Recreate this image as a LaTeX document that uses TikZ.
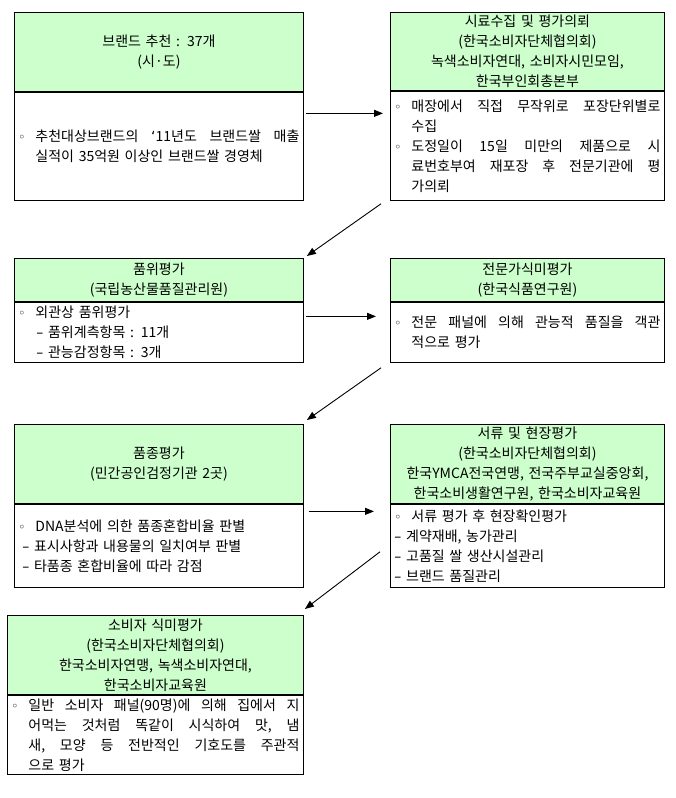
\documentclass[tikz,border=0pt]{standalone}
\usepackage{fontspec}
\usepackage{tikz}
\usepackage{xcolor}
\usetikzlibrary{arrows.meta}
\setmainfont{Noto Sans CJK KR}[WordSpace={2.2,1,1}]
\newfontfamily\symfont{DejaVu Sans}
\definecolor{headgreen}{RGB}{204,255,204}
\newlength\gap
\setlength\gap{0pt plus 1fil}
\newcommand\bul{\makebox[17pt][l]{\symfont\fontsize{12}{20}\selectfont ◦}}
\newcommand\dsh{{\symfont –}\ }
\newcommand\jl[2][0pt]{\hspace*{#1}\makebox[\dimexpr\hsize-#1\relax][s]{#2}}

\begin{document}
\begin{tikzpicture}[x=1pt, y=-1pt,
    every node/.style={font=\fontsize{14}{20}\selectfont},
    head/.style={draw, line width=0.9pt, fill=headgreen, anchor=north west, inner xsep=1pt, inner ysep=0pt, align=center},
    body/.style={draw, line width=0.9pt, anchor=north west, inner xsep=4pt, inner ysep=0pt, align=left},
    arr/.style={line width=0.9pt, -{Triangle[length=9pt,width=7pt]}}]
            \fill[white] (0,0) rectangle (675,798);
            % left column
            \node[head, text width=287pt, minimum height=79pt] (h1) at (14,12) {브랜드 추천 : 37개\\(시·도)};
            \node[body, text width=281pt, minimum height=108pt] (b1) at (h1.south west) {\jl{\bul 추천대상브랜드의\hskip\gap{\symfont ‘}11년도\hskip\gap 브랜드쌀\hskip\gap 매출}\\\hspace*{17pt}실적이 35억원 이상인 브랜드쌀 경영체};
            \node[head, text width=287pt, minimum height=43pt] (h3) at (14,258) {품위평가\\(국립농산물품질관리원)};
            \node[body, text width=281pt, minimum height=60pt] (b3) at (h3.south west) {\bul 외관상 품위평가\\\hspace*{18pt}\dsh 품위계측항목 : 11개\\\hspace*{18pt}\dsh 관능감정항목 : 3개};
            \node[head, text width=287pt, minimum height=79pt] (h5) at (14,424) {품종평가\\(민간공인검정기관 2곳)};
            \node[body, text width=281pt, minimum height=83pt] (b5) at (h5.south west) {\bul DNA분석에 의한 품종혼합비율 판별\\\hspace*{4pt}\dsh 표시사항과 내용물의 일치여부 판별\\\hspace*{4pt}\dsh 타품종 혼합비율에 따라 감점};
            \node[head, text width=294pt, minimum height=79pt] (h7) at (7,615) {소비자 식미평가\\(한국소비자단체협의회)\\한국소비자연맹, 녹색소비자연대,\\한국소비자교육원};
            \node[body, text width=288pt, minimum height=79pt] (b7) at (h7.south west) {\jl{\bul 일반\hskip\gap 소비자\hskip\gap 패널(90명)에\hskip\gap 의해\hskip\gap 집에서\hskip\gap 지}\\\jl[17pt]{어먹는\hskip\gap 것처럼\hskip\gap 똑같이\hskip\gap 시식하여\hskip\gap 맛,\hskip\gap 냄}\\\jl[17pt]{새,\hskip\gap 모양\hskip\gap 등\hskip\gap 전반적인\hskip\gap 기호도를\hskip\gap 주관적}\\\hspace*{17pt}으로 평가};
            % right column
            \node[head, text width=272pt, minimum height=78pt] (h2) at (390,12) {시료수집 및 평가의뢰\\(한국소비자단체협의회)\\녹색소비자연대, 소비자시민모임,\\한국부인회총본부};
            \node[body, text width=266pt, minimum height=109pt] (b2) at (h2.south west) {\jl{\bul 매장에서\hskip\gap 직접\hskip\gap 무작위로\hskip\gap 포장단위별로}\\\hspace*{17pt}수집\\\jl{\bul 도정일이\hskip\gap 15일\hskip\gap 미만의\hskip\gap 제품으로\hskip\gap 시}\\\jl[17pt]{료번호부여\hskip\gap 재포장\hskip\gap 후\hskip\gap 전문기관에\hskip\gap 평}\\\hspace*{17pt}가의뢰};
            \node[head, text width=272pt, minimum height=43pt] (h4) at (390,258) {전문가식미평가\\(한국식품연구원)};
            \node[body, text width=266pt, minimum height=60pt] (b4) at (h4.south west) {\jl{\bul 전문\hskip\gap 패널에\hskip\gap 의해\hskip\gap 관능적\hskip\gap 품질을\hskip\gap 객관}\\\hspace*{17pt}적으로 평가};
            \node[head, text width=272pt, minimum height=79pt] (h6) at (390,424) {서류 및 현장평가\\(한국소비자단체협의회)\\한국YMCA전국연맹, 전국주부교실중앙회,\\한국소비생활연구원, 한국소비자교육원};
            \node[body, text width=266pt, minimum height=83pt] (b6) at (h6.south west) {\bul 서류 평가 후 현장확인평가\\\dsh 계약재배, 농가관리\\\dsh 고품질 쌀 생산시설관리\\\dsh 브랜드 품질관리};
            % arrows
            \draw[arr] ([xshift=2pt,yshift=33pt]b1.east) -- ([xshift=-7pt,yshift=32.5pt]b2.west);
            \draw[arr] ([xshift=-9pt,yshift=-3pt]b2.south west) -- ([xshift=3pt,yshift=2pt]h3.north east);
            \draw[arr] ([xshift=2pt,yshift=16pt]b3.east) -- ([xshift=-14pt,yshift=16pt]b4.west);
            \draw[arr] ([xshift=-9pt,yshift=-5pt]b4.south west) -- ([xshift=3pt,yshift=4pt]h5.north east);
            \draw[arr] ([xshift=5pt,yshift=34.5pt]b5.east) -- ([xshift=-16pt,yshift=34.5pt]b6.west);
            \draw[arr] ([xshift=-10pt,yshift=36pt]b6.south west) -- ([xshift=1pt,yshift=6pt]h7.north east);
        \end{tikzpicture}
\end{document}
